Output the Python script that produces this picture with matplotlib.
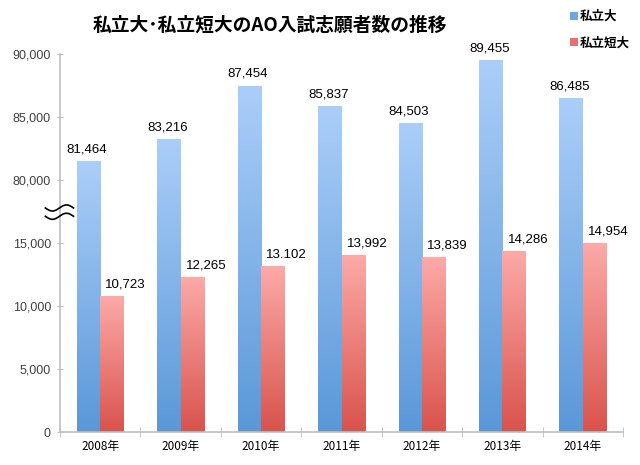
import numpy as np
import matplotlib
matplotlib.use("Agg")
import matplotlib.pyplot as plt
from matplotlib.colors import LinearSegmentedColormap
from matplotlib.patches import Patch
from matplotlib.transforms import blended_transform_factory

years = ["2008年", "2009年", "2010年", "2011年", "2012年", "2013年", "2014年"]
univ = [81464, 83216, 87454, 85837, 84503, 89455, 86485]
junior = [10723, 12265, 13102, 13992, 13839, 14286, 14954]
univ_labels = ["81,464", "83,216", "87,454", "85,837", "84,503", "89,455", "86,485"]
junior_labels = ["10,723", "12,265", "13.102", "13,992", "13,839", "14,286", "14,954"]
ytick_vals = [0, 5000, 10000, 15000, 80000, 85000, 90000]
ytick_labels = ["0", "5,000", "10,000", "15,000", "80,000", "85,000", "90,000"]
series_names = ["私立大", "私立短大"]

BREAK_LO, BREAK_HI = 20000, 80000  # values >= 80000 are drawn shifted down by 60000


def tr(v):
    return v - (BREAK_HI - BREAK_LO) if v >= BREAK_HI else v


CJK = ["Noto Sans CJK JP", "DejaVu Sans"]
NUM = ["Liberation Sans", "DejaVu Sans"]

fig = plt.figure(figsize=(6.4, 4.65), dpi=100)
ax = fig.add_axes([60 / 640, 1 - 432 / 465, 563 / 640, (432 - 54) / 465])

blue_cmap = LinearSegmentedColormap.from_list("b", ["#5a98d8", "#abcef9"])
red_cmap = LinearSegmentedColormap.from_list("r", ["#d9534c", "#fcaaa8"])
grad = np.linspace(0, 1, 256).reshape(-1, 1)

w = 0.29
x = np.arange(len(years))
for i in range(len(years)):
    hb = tr(univ[i])
    hr = tr(junior[i])
    ax.imshow(grad, cmap=blue_cmap, origin="lower", aspect="auto",
              extent=[x[i] - w, x[i], 0, hb], zorder=2)
    ax.imshow(grad, cmap=red_cmap, origin="lower", aspect="auto",
              extent=[x[i], x[i] + w, 0, hr], zorder=2)
    ax.annotate(univ_labels[i], (x[i] - w / 2, hb), xytext=(-1, 4.5),
                textcoords="offset points", ha="center", va="bottom",
                fontsize=9.5, family=NUM, color="black")
    ax.annotate(junior_labels[i], (x[i] + w / 2, hr), xytext=(10, 4.5),
                textcoords="offset points", ha="center", va="bottom",
                fontsize=9.5, family=NUM, color="black")

ax.set_xlim(-0.5, len(years) - 0.5)
ax.set_ylim(0, tr(90000))

ax.set_yticks([tr(v) for v in ytick_vals])
ax.set_yticklabels(ytick_labels, family=NUM, fontsize=9, color="#404040")
ax.tick_params(axis="y", direction="inout", length=5, color="#bfbfbf", pad=4)

ax.set_xticks(x)
ax.set_xticklabels(years, family=CJK, fontsize=8.5, color="black")
ax.set_xticks(np.arange(len(years) + 1) - 0.5, minor=True)
ax.tick_params(axis="x", which="major", length=0, pad=6)
ax.tick_params(axis="x", which="minor", direction="inout", length=7, color="#bfbfbf")

for s in ["top", "right"]:
    ax.spines[s].set_visible(False)
for s in ["left", "bottom"]:
    ax.spines[s].set_color("#bfbfbf")
    ax.spines[s].set_linewidth(1.2)

# axis-break mark
bt = blended_transform_factory(ax.transAxes, ax.transData)
t = np.linspace(0, 1, 60)
xs = -0.026 + 0.05 * t
ymid = 17450
amp = 240
for dy in (330, -330):
    ax.plot(xs, ymid + dy - amp * np.sin(2 * np.pi * t), transform=bt,
            color="black", lw=1.2, clip_on=False, zorder=5)

fig.text(270 / 640, 1 - 25 / 465, "私立大･私立短大のAO入試志願者数の推移",
         ha="center", va="center", fontsize=13.5, fontweight="bold", family=CJK)

handles = [Patch(facecolor="#6fa6e4", edgecolor="none"),
           Patch(facecolor="#e8706b", edgecolor="none")]
leg = fig.legend(handles, series_names, loc="upper left",
                 bbox_to_anchor=(565 / 640, 1 - 5 / 465), frameon=False,
                 prop={"family": CJK, "size": 9, "weight": "bold"},
                 handlelength=0.6, handleheight=0.6, handletextpad=0.2,
                 labelspacing=1.1, borderaxespad=0)

fig.savefig("out.png", dpi=100)
